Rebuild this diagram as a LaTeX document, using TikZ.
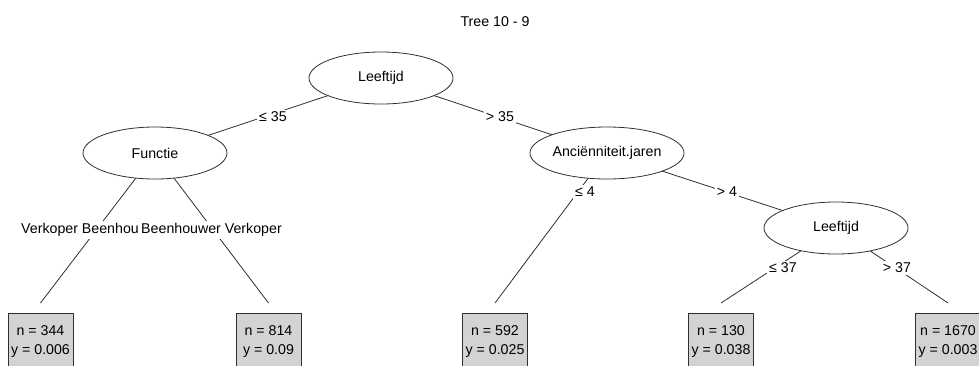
\documentclass[tikz,border=0pt]{standalone}
\usepackage{fontspec}
\setmainfont{Liberation Sans}
\usetikzlibrary{shapes.geometric,backgrounds}
\definecolor{leaffill}{HTML}{D3D3D3}
\definecolor{linegray}{HTML}{303030}
\begin{document}
\begin{tikzpicture}[x=1pt,y=-1pt,
  every node/.style={font=\fontsize{14.2}{17}\selectfont},
  split/.style={ellipse,draw=linegray,fill=white,line width=0.8pt,
    minimum width=144pt,minimum height=52pt,inner sep=0pt},
  leaf/.style={rectangle,draw=linegray,fill=leaffill,line width=0.8pt,
    minimum width=65pt,minimum height=57pt,inner sep=0pt,anchor=north,
    align=center,font=\fontsize{14.2}{19}\selectfont},
  cond/.style={fill=white,inner sep=2pt},
  branch/.style={draw=linegray,line width=0.8pt}]
\useasboundingbox (0,0) rectangle (979,365);
\clip (0,0) rectangle (979,365);

% title
\node (title) at (495,22) {Tree 10 - 9};

% inner (split) nodes
\node[split] (n1) at (381,78)  {Leeftijd};
\node[split] (n2) at (155,153) {Functie};
\node[split] (n5) at (607,153) {Anciënniteit.jaren};
\node[split] (n7) at (836,228) {Leeftijd};

% terminal nodes: branch ends and boxes
\coordinate (t3) at (40.5,303);
\coordinate (t4) at (268.5,303);
\coordinate (t6) at (495,303);
\coordinate (t8) at (721,303);
\coordinate (t9) at (948,303);
\node[leaf] (b3) at (40.5,313) {n = 344\\y = 0.006};
\node[leaf] (b4) at (268.5,313) {n = 814\\y = 0.09};
\node[leaf] (b6) at (495,313) {n = 592\\y = 0.025};
\node[leaf] (b8) at (721,313) {n = 130\\y = 0.038};
\node[leaf] (b9) at (948,313) {n = 1670\\y = 0.003};

% branches, drawn beneath the nodes
\begin{pgfonlayer}{background}
  \draw[branch] (n1.center) -- (n2.center);
  \draw[branch] (n1.center) -- (n5.center);
  \draw[branch] (n2.center) -- (t3);
  \draw[branch] (n2.center) -- (t4);
  \draw[branch] (n5.center) -- (t6);
  \draw[branch] (n5.center) -- (n7.center);
  \draw[branch] (n7.center) -- (t8);
  \draw[branch] (n7.center) -- (t9);
\end{pgfonlayer}

% split conditions
\node[cond] (c12) at (273,117) {≤ 35};
\node[cond] (c15) at (500,117) {> 35};
\node[cond] (c24) at (211.5,230) {Beenhouwer Verkoper};
\node[cond,anchor=east,inner xsep=0pt] (c23) at (c24.west) {Verkoper Beenhou};
\node[cond] (c56) at (585,192) {≤ 4};
\node[cond] (c57) at (727,192) {> 4};
\node[cond] (c78) at (783,268) {≤ 37};
\node[cond] (c79) at (897,268) {> 37};
\end{tikzpicture}
\end{document}
